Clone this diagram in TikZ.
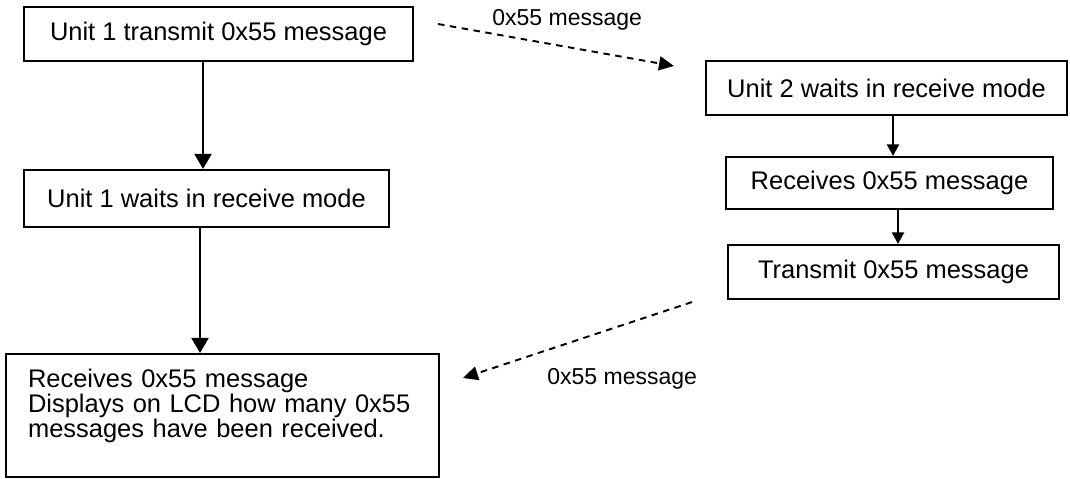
\documentclass[tikz,border=0pt]{standalone}
\usepackage{fontspec}
\setmainfont{Liberation Sans}
\usetikzlibrary{arrows.meta}
\tikzset{
    box/.style={draw, line width=1.2pt, inner sep=0pt, font=\fontsize{14.5}{14.2}\selectfont},
    flow/.style={line width=1.1pt, -{Triangle[length=3mm,width=3.4mm]}},
    smallflow/.style={line width=1.1pt, -{Triangle[length=2.3mm,width=2.4mm]}},
    msg/.style={line width=1.1pt, dash pattern=on 0.13cm off 0.11cm, -{Triangle[length=3mm,width=2.8mm]}},
    msglabel/.style={anchor=west, inner sep=0pt, font=\fontsize{13.1}{15}\selectfont}
}
\begin{document}
\begin{tikzpicture}[x=0.02cm,y=-0.02cm]
    \useasboundingbox (0,0) rectangle (1070,479);
    % Unit 1 side
    \node[box, minimum width=7.78cm, minimum height=1.08cm] (tx1) at (218.5,34) {Unit 1 transmit 0x55 message};
    \node[box, minimum width=7.3cm, minimum height=1.14cm] (wait1) at (206.5,198.5) {Unit 1 waits in receive mode};
    \node[box, minimum width=8.66cm, minimum height=2.46cm, text width=7.78cm, inner xsep=0.44cm, align=left] (rcv1) at (222.5,415.5)
        {Receives 0x55 message\\Displays on LCD how many 0x55\\messages have been received.\\\mbox{}};
    % Unit 2 side
    \node[box, minimum width=7.22cm, minimum height=1.08cm] (wait2) at (886.5,88) {Unit 2 waits in receive mode};
    \node[box, minimum width=6.54cm, minimum height=1.04cm] (rcv2) at (889.5,183) {Receives 0x55 message};
    \node[box, minimum width=6.62cm, minimum height=1.08cm] (tx2) at (893.5,272) {Transmit 0x55 message};
    % Flow inside each unit
    \draw[flow] ([xshift=-0.31cm]tx1.south) -- ([xshift=-0.07cm]wait1.north);
    \draw[flow] ([xshift=-0.13cm]wait1.south) -- ([xshift=-0.45cm]rcv1.north);
    \draw[smallflow] ([xshift=0.13cm]wait2.south) -- ([xshift=0.07cm]rcv2.north);
    \draw[smallflow] ([xshift=0.17cm]rcv2.south) -- ([xshift=0.09cm]tx2.north);
    % Messages between the units
    \coordinate (out1) at ([shift={(0.48cm,0.2cm)}]tx1.east);
    \coordinate (in2) at ([shift={(-0.62cm,0.44cm)}]wait2.west);
    \coordinate (out2) at ([shift={(-0.7cm,-0.04cm)}]tx2.south west);
    \coordinate (in1) at ([shift={(0.46cm,0.75cm)}]rcv1.east);
    \draw[msg] (out1) -- (in2);
    \draw[msg] (out2) -- (in1);
    \node[msglabel] (lbl1) at (492,20) {0x55 message};
    \node[msglabel] (lbl2) at (547,379) {0x55 message};
\end{tikzpicture}
\end{document}
